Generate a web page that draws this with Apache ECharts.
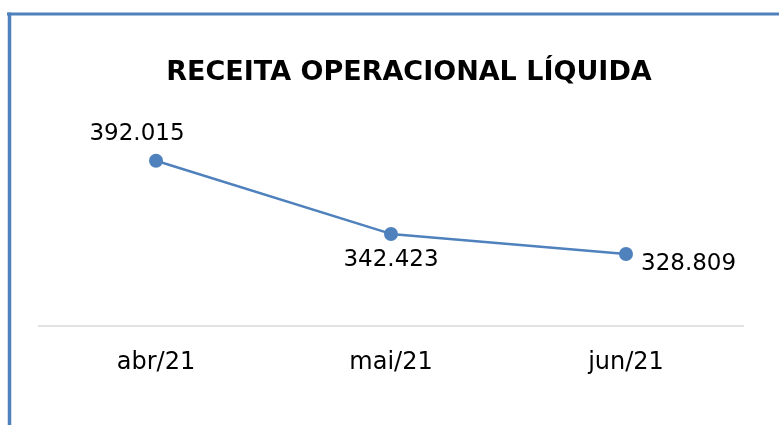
<!DOCTYPE html>
<html><head><meta charset="utf-8">
<script src="https://cdn.jsdelivr.net/npm/echarts@6/dist/echarts.min.js"></script>
<style>html,body{margin:0;padding:0;background:#fff}#c{width:779px;height:425px}</style>
</head><body><div id="c"></div>
<script>
const categories = ['abr/21', 'mai/21', 'jun/21'];
const values = [392015, 342423, 328809];
const labelPositions = ['top', 'bottom', 'right'];
const titleText = 'RECEITA OPERACIONAL LÍQUIDA';

function fmt(v) { return String(v).replace(/\B(?=(\d{3})+(?!\d))/g, '.'); }

const labelOffsets = [[-19, 0], [0, 0], [0, 10]];
const chart = echarts.init(document.getElementById('c'), null, {renderer: 'canvas'});
const blue = '#4F81BD';
chart.setOption({
  animation: false,
  backgroundColor: '#fff',
  title: {
    text: titleText,
    left: 404, top: 54, textAlign: 'center',
    textStyle: {fontFamily: 'DejaVu Sans', fontWeight: 'bold', fontSize: 27, color: '#000'}
  },
  graphic: [
    {type: 'line', shape: {x1: 7, y1: 14, x2: 779, y2: 14}, style: {stroke: blue, lineWidth: 3}},
    {type: 'line', shape: {x1: 9.5, y1: 12.5, x2: 9.5, y2: 425}, style: {stroke: blue, lineWidth: 3.5}}
  ],
  grid: {left: 38.5, right: 35.5, top: 149, bottom: 99},
  xAxis: {
    type: 'category', data: categories, boundaryGap: true,
    axisLine: {lineStyle: {color: '#d9d9d9', width: 1.5}},
    axisTick: {show: false},
    axisLabel: {fontFamily: 'DejaVu Sans', fontSize: 24, color: '#000', margin: 25}
  },
  yAxis: {
    type: 'value', min: 280000, max: 400000, show: false,
    splitLine: {show: false}
  },
  series: [{
    type: 'line',
    data: values.map((v, i) => ({value: v, label: {position: labelPositions[i], offset: labelOffsets[i]}})),
    symbol: 'circle', symbolSize: 14,
    lineStyle: {color: blue, width: 2.5},
    itemStyle: {color: blue},
    label: {
      show: true, fontFamily: 'DejaVu Sans', fontSize: 23, color: '#000',
      formatter: p => fmt(p.value), distance: 8
    }
  }]
});
</script></body></html>
